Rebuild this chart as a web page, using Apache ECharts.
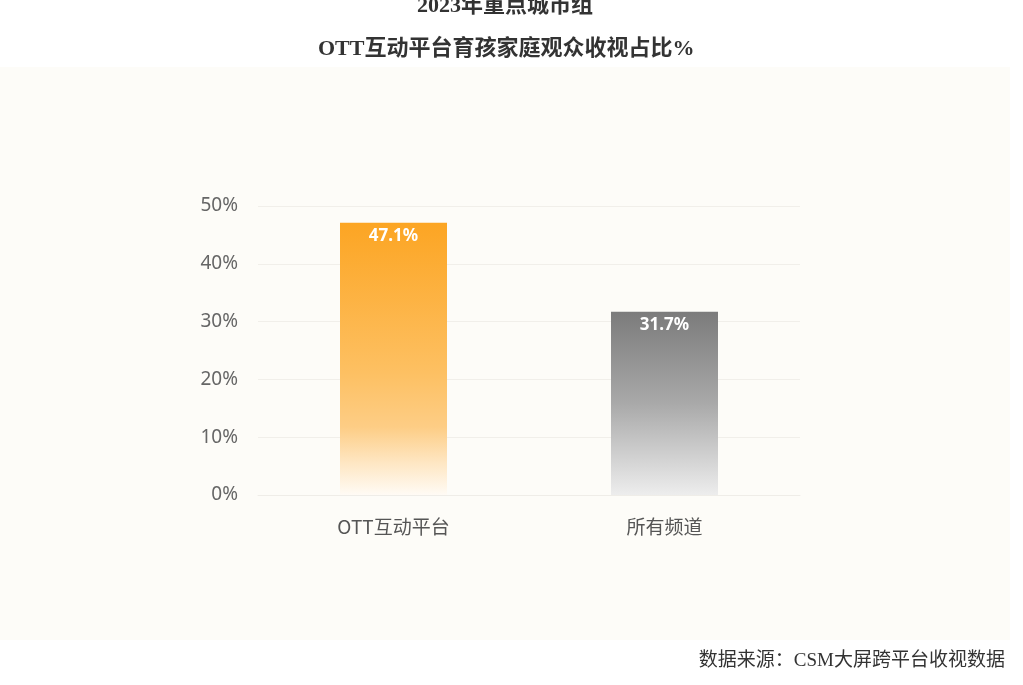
<!DOCTYPE html>
<html><head><meta charset="utf-8">
<script src="https://cdn.jsdelivr.net/npm/echarts@6/dist/echarts.min.js"></script>
<style>html,body{margin:0;padding:0;background:#fff;}#c{width:1023px;height:685px;}</style>
</head><body><div id="c"></div>
<script>
var categories = ['OTT互动平台', '所有频道'];
var values = [47.1, 31.7];
var titleLines = ['2023年重点城市组', 'OTT互动平台育孩家庭观众收视占比%'];
var sourceText = '数据来源：CSM大屏跨平台收视数据';

var chart = echarts.init(document.getElementById('c'));
var orange = new echarts.graphic.LinearGradient(0,0,0,1,[
  {offset:0,color:'#fca523'},{offset:0.55,color:'#fdc062'},{offset:0.75,color:'#fdcd85'},{offset:0.88,color:'#fee6c2'},{offset:1,color:'#fffbf5'}]);
var gray = new echarts.graphic.LinearGradient(0,0,0,1,[
  {offset:0,color:'#7b7b7b'},{offset:0.5,color:'#a9a9a9'},{offset:1,color:'#ededed'}]);
chart.setOption({
  backgroundColor:'#ffffff',
  graphic:[{type:'rect',left:0,top:67,z:-10,shape:{width:1010,height:573},style:{fill:'#fdfcf8'}}],
  title:[
    {text:titleLines[0],left:412,top:-10,textStyle:{fontFamily:'"Liberation Serif","Noto Sans CJK SC",serif',fontWeight:'bold',fontSize:22,color:'#333'}},
    {text:titleLines[1],left:313,top:33,textStyle:{fontFamily:'"Liberation Serif","Noto Sans CJK SC",serif',fontWeight:'bold',fontSize:22,color:'#333'}},
    {text:sourceText,right:13,top:647,textStyle:{fontFamily:'"Liberation Serif","Noto Sans CJK SC",serif',fontWeight:'normal',fontSize:19,color:'#333'}}
  ],
  grid:{left:258,right:223,top:206,bottom:190,containLabel:false},
  xAxis:{type:'category',data:categories,
    axisLine:{show:true,lineStyle:{color:'#efede8'}},axisTick:{show:false},
    axisLabel:{color:'#555',fontSize:19,margin:22,fontFamily:'"Noto Sans CJK SC",sans-serif'}},
  yAxis:{type:'value',min:0,max:50,interval:10,
    axisLabel:{formatter:'{value}%',color:'#666',fontSize:19,margin:20,fontFamily:'"Noto Sans","Noto Sans CJK SC",sans-serif'},
    axisLine:{show:false},axisTick:{show:false},
    splitLine:{lineStyle:{color:'#f1efea'}}},
  series:[{type:'bar',barWidth:107,
    data:values.map(function(v,i){return {value:v,itemStyle:{color:i===0?orange:gray}};}),
    label:{show:true,position:'insideTop',distance:5,formatter:'{c}%',color:'#fff',fontWeight:'bold',fontSize:17,fontFamily:'"Noto Sans",sans-serif'}}]
});
</script></body></html>
